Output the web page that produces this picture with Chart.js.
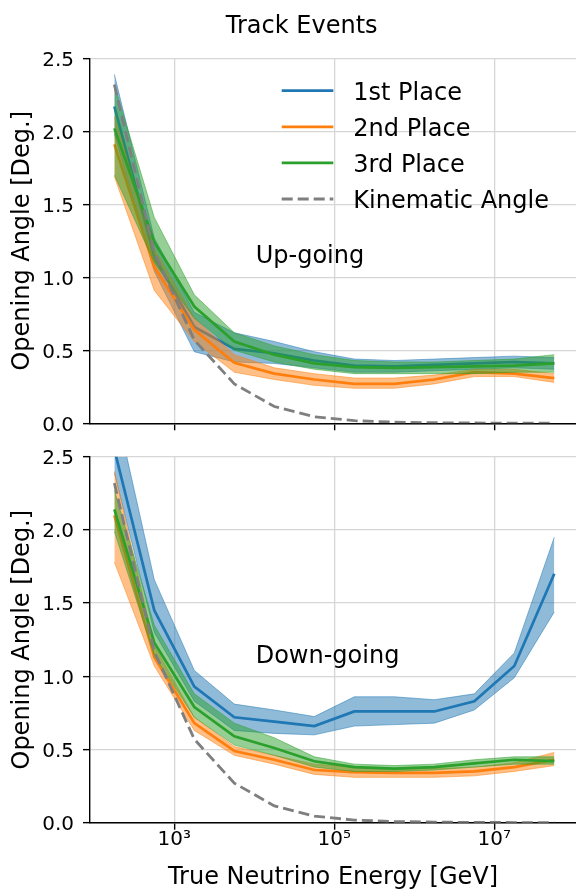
<!DOCTYPE html>
<html>
<head>
<meta charset="utf-8">
<script src="https://cdn.jsdelivr.net/npm/chart.js@4.4.1/dist/chart.umd.min.js"></script>
<style>
  body { margin: 0; background: #fff; }
  #wrap { position: relative; width: 576px; height: 890px; }
  .box { position: absolute; left: 0; width: 576px; }
  #topBox { top: 0; height: 440px; }
  #botBox { top: 440px; height: 450px; }
</style>
</head>
<body>
<div id="wrap">
  <div class="box" id="topBox"><canvas id="upChart" width="576" height="440"></canvas></div>
  <div class="box" id="botBox"><canvas id="downChart" width="576" height="450"></canvas></div>
</div>
<script>
// bin centres (GeV)
const energies = [178, 562, 1778, 5623, 17783, 56234, 177828, 562341, 1778279, 5623413, 17782794, 56234133];
const xTicks = [1e3, 1e5, 1e7];
const xTickLabels = ['10³', '10⁵', '10⁷'];
const seriesNames = ['1st Place', '2nd Place', '3rd Place', 'Kinematic Angle'];

const kinematic = [2.32, 1.17, 0.57, 0.27, 0.115, 0.045, 0.018, 0.008, 0.004, 0.002, 0.001, 0.0005];

// up-going
const upFirst   = [2.17, 1.14, 0.66, 0.51, 0.48, 0.43, 0.395, 0.39, 0.40, 0.41, 0.42, 0.41];
const upFirstLo = [1.98, 1.04, 0.49, 0.42, 0.41, 0.38, 0.35, 0.35, 0.36, 0.37, 0.38, 0.37];
const upFirstHi = [2.39, 1.27, 0.76, 0.62, 0.56, 0.49, 0.44, 0.43, 0.44, 0.45, 0.46, 0.45];
const upSecond   = [1.91, 1.07, 0.64, 0.415, 0.34, 0.30, 0.27, 0.27, 0.30, 0.35, 0.34, 0.31];
const upSecondLo = [1.69, 0.91, 0.56, 0.35, 0.30, 0.26, 0.24, 0.24, 0.27, 0.32, 0.32, 0.28];
const upSecondHi = [2.10, 1.20, 0.72, 0.47, 0.38, 0.34, 0.31, 0.31, 0.33, 0.37, 0.37, 0.34];
const upThird   = [2.02, 1.24, 0.80, 0.56, 0.47, 0.41, 0.385, 0.38, 0.385, 0.39, 0.395, 0.41];
const upThirdLo = [1.70, 1.10, 0.72, 0.50, 0.42, 0.37, 0.34, 0.34, 0.34, 0.34, 0.35, 0.35];
const upThirdHi = [2.32, 1.41, 0.88, 0.62, 0.53, 0.47, 0.43, 0.42, 0.42, 0.43, 0.44, 0.47];

// down-going
const downFirst   = [2.55, 1.45, 0.93, 0.72, 0.69, 0.66, 0.76, 0.76, 0.76, 0.83, 1.07, 1.70];
const downFirstLo = [2.39, 1.30, 0.83, 0.63, 0.61, 0.60, 0.66, 0.67, 0.68, 0.77, 0.99, 1.44];
const downFirstHi = [2.88, 1.66, 1.04, 0.81, 0.77, 0.725, 0.86, 0.86, 0.84, 0.88, 1.16, 1.95];
const downSecond   = [2.10, 1.13, 0.68, 0.49, 0.43, 0.36, 0.345, 0.34, 0.34, 0.35, 0.38, 0.43];
const downSecondLo = [1.78, 1.07, 0.63, 0.46, 0.40, 0.33, 0.31, 0.31, 0.31, 0.32, 0.35, 0.39];
const downSecondHi = [2.40, 1.21, 0.72, 0.52, 0.46, 0.40, 0.38, 0.37, 0.37, 0.38, 0.41, 0.48];
const downThird   = [2.14, 1.23, 0.79, 0.59, 0.51, 0.42, 0.38, 0.37, 0.38, 0.405, 0.43, 0.42];
const downThirdLo = [1.99, 1.14, 0.72, 0.53, 0.46, 0.38, 0.35, 0.35, 0.36, 0.38, 0.40, 0.40];
const downThirdHi = [2.27, 1.35, 0.88, 0.68, 0.58, 0.45, 0.40, 0.39, 0.40, 0.43, 0.45, 0.45];

const colors = ['#1f77b4', '#ff7f0e', '#2ca02c', '#7f7f7f'];
const bandColors = ['rgba(31,119,180,0.5)', 'rgba(255,127,14,0.5)', 'rgba(44,160,44,0.5)'];
const gridColor = '#d6d6d6';

Chart.defaults.font.family = 'DejaVu Sans';
Chart.defaults.color = '#000';

function buildDatasets(groups) {
  const list = [];
  groups.forEach((g, i) => {
    list.push({ data: g[1], borderColor: bandColors[i], borderWidth: 1, pointRadius: 0, fill: false });
    list.push({ data: g[2], borderColor: bandColors[i], borderWidth: 1, pointRadius: 0,
                fill: '-1', backgroundColor: bandColors[i] });
    list.push({ data: g[0], borderColor: colors[i], borderWidth: 2.7, pointRadius: 0, fill: false,
                legendLabel: seriesNames[i] });
  });
  list.push({ data: kinematic, borderColor: colors[3], borderWidth: 2.8, borderDash: [11, 5],
              pointRadius: 0, fill: false, legendLabel: seriesNames[3] });
  // first pushed is drawn first (underneath)
  list.forEach((d, i) => { d.order = list.length - i; });
  return list;
}

// free text, title and legend drawn onto the canvas
const notesPlugin = {
  id: 'notes',
  afterDraw(chart, args, opts) {
    const ctx = chart.ctx;
    ctx.save();
    ctx.fillStyle = '#000';
    ctx.font = '24px "DejaVu Sans"';
    ctx.textBaseline = 'alphabetic';
    (opts.texts || []).forEach(t => {
      ctx.textAlign = t.align || 'left';
      ctx.fillText(t.text, t.x, t.y);
    });
    if (opts.legend) {
      const L = opts.legend;
      const items = chart.data.datasets.filter(d => d.legendLabel);
      items.forEach((d, i) => {
        const y = L.y + i * L.step;
        ctx.strokeStyle = d.borderColor;
        ctx.lineWidth = d.borderWidth;
        ctx.setLineDash(d.borderDash || []);
        ctx.beginPath();
        ctx.moveTo(L.x1, y);
        ctx.lineTo(L.x2, y);
        ctx.stroke();
        ctx.setLineDash([]);
        ctx.textAlign = 'left';
        ctx.fillText(d.legendLabel, L.tx, y + 8.8);
      });
    }
    ctx.restore();
  }
};

function makeChart(id, groups, cfg) {
  return new Chart(document.getElementById(id), {
    type: 'line',
    data: { labels: energies, datasets: buildDatasets(groups) },
    plugins: [notesPlugin],
    options: {
      responsive: false,
      animation: false,
      layout: { padding: { top: cfg.padTop, left: 0, right: 0, bottom: 0 } },
      plugins: {
        legend: { display: false },
        tooltip: { enabled: false },
        notes: cfg.notes
      },
      scales: {
        x: {
          type: 'logarithmic',
          bounds: 'data',
          min: 88.3,
          max: 1.05e8,
          afterBuildTicks: s => { s.ticks = xTicks.map(v => ({ value: v })); },
          afterFit: s => { s.height = cfg.xHeight; s.paddingLeft = 0; s.paddingRight = 0; },
          ticks: {
            display: cfg.showXLabels,
            autoSkip: false, maxRotation: 0, padding: -2,
            font: { size: 20 },
            callback: (v, i) => xTickLabels[i]
          },
          grid: { color: gridColor, lineWidth: 1.3, tickColor: '#000', tickLength: 7, tickWidth: 1.4 },
          border: { color: '#000', width: 1.4 },
          title: {
            display: cfg.showXLabels,
            text: 'True Neutrino Energy [GeV]',
            font: { size: 24, lineHeight: 1 },
            padding: { top: 0, bottom: 0 }
          }
        },
        y: {
          min: 0, max: 2.5,
          afterFit: s => { s.width = 90; s.paddingTop = 0; s.paddingBottom = 0; },
          ticks: { stepSize: 0.5, padding: 9, labelOffset: 2, font: { size: 20 },
                   callback: v => v.toFixed(1) },
          grid: { color: gridColor, lineWidth: 1.3, tickColor: '#000', tickLength: 7, tickWidth: 1.4 },
          border: { color: '#000', width: 1.4 },
          title: {
            display: true,
            text: 'Opening Angle [Deg.]',
            font: { size: 24 },
            padding: { top: 8, bottom: 0 }
          }
        }
      }
    }
  });
}

makeChart('upChart', [
  [upFirst, upFirstLo, upFirstHi],
  [upSecond, upSecondLo, upSecondHi],
  [upThird, upThirdLo, upThirdHi]
], {
  padTop: 58.3,
  xHeight: 16.7,
  showXLabels: false,
  notes: {
    texts: [
      { text: 'Track Events', x: 301.7, y: 33.3, align: 'center' },
      { text: 'Up-going', x: 255.7, y: 263.3 }
    ],
    legend: { x1: 281.7, x2: 333.3, tx: 353.3, y: 90.7, step: 36.1 }
  }
});

makeChart('downChart', [
  [downFirst, downFirstLo, downFirstHi],
  [downSecond, downSecondLo, downSecondHi],
  [downThird, downThirdLo, downThirdHi]
], {
  padTop: 16.7,
  xHeight: 67.3,
  showXLabels: true,
  notes: {
    texts: [
      { text: 'Down-going', x: 255.7, y: 222.7 }
    ]
  }
});
</script>
</body>
</html>
